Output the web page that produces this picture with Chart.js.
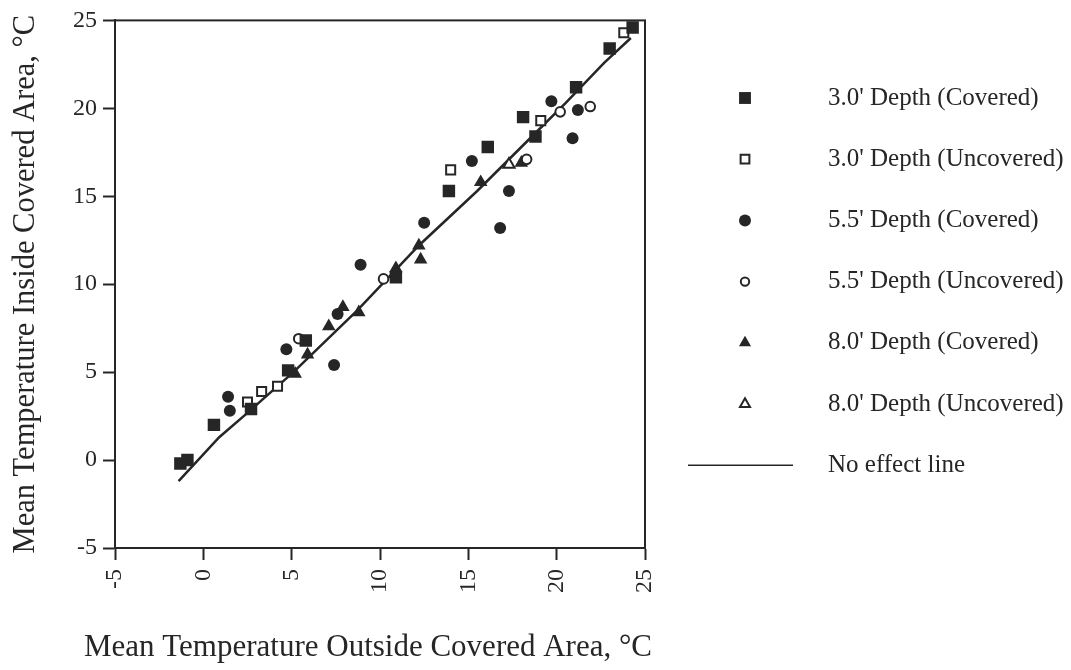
<!DOCTYPE html>
<html>
<head>
<meta charset="utf-8">
<script src="https://cdn.jsdelivr.net/npm/chart.js@4/dist/chart.umd.min.js"></script>
<style>
  html, body { margin: 0; padding: 0; background: #fff; }
  #wrap { width: 1071px; height: 670px; }
</style>
</head>
<body>
<div id="wrap"><canvas id="chart" width="1071" height="670"></canvas></div>
<script>
  // values: [outside, inside] in deg C
  const covered30 = [[-1.3, -0.2], [-0.9, 0.0], [0.6, 2.0], [2.7, 2.9], [4.8, 5.1], [5.8, 6.8],
    [10.9, 10.4], [13.9, 15.3], [16.1, 17.8], [18.1, 19.5], [18.8, 18.4], [21.1, 21.2],
    [23.0, 23.4], [24.3, 24.6]];
  const uncovered30 = [[2.5, 3.3], [3.3, 3.9], [4.2, 4.2], [14.0, 16.5], [19.1, 19.3], [23.8, 24.3]];
  const covered55 = [[1.4, 3.6], [1.5, 2.8], [4.7, 6.3], [7.4, 5.4], [7.6, 8.3], [8.9, 11.1],
    [12.5, 13.5], [15.2, 17.0], [16.8, 13.2], [17.3, 15.3], [19.7, 20.4], [20.9, 18.3], [21.2, 19.9]];
  const uncovered55 = [[5.4, 6.9], [10.2, 10.3], [18.3, 17.1], [20.2, 19.8], [21.9, 20.1]];
  const covered80 = [[5.2, 4.9], [5.9, 6.0], [7.1, 7.6], [7.9, 8.7], [8.8, 8.4], [10.9, 10.9],
    [12.2, 12.2], [12.3, 11.4], [15.7, 15.8], [18.0, 16.9]];
  const uncovered80 = [[17.3, 16.8]];
  const noEffect = [[-1.4, -1.2], [0.9, 1.3], [2.4, 2.6], [5.1, 5.0], [8.7, 8.5], [12.2, 12.2],
    [15.5, 15.3], [18.4, 18.2], [20.5, 20.3], [22.7, 22.6], [24.2, 24.0]];
  const axisTicks = [-5, 0, 5, 10, 15, 20, 25];
  const xTitle = 'Mean Temperature Outside Covered Area, °C';
  const yTitle = 'Mean Temperature Inside Covered Area, °C';

  const INK = '#262626';
  const SERIF = '"Liberation Serif", "Times New Roman", serif';

  const pts = (arr) => arr.map(([x, y]) => ({x, y}));

  const marker = (label, data, style, filled, radius, legendRadius) => ({
    label,
    data: pts(data),
    pointStyle: style,
    pointRadius: radius,
    pointHoverRadius: radius,
    backgroundColor: filled ? INK : '#fff',
    borderColor: INK,
    borderWidth: filled ? 0 : 2,
    legendRadius,
    order: 1
  });

  const datasets = [
    marker("3.0' Depth (Covered)", covered30, 'rect', true, 8.8, 8.4),
    marker("3.0' Depth (Uncovered)", uncovered30, 'rect', false, 6.4, 6.2),
    marker("5.5' Depth (Covered)", covered55, 'circle', true, 6, 6),
    marker("5.5' Depth (Uncovered)", uncovered55, 'circle', false, 4.8, 4.2),
    marker("8.0' Depth (Covered)", covered80, 'triangle', true, 7.8, 7),
    marker("8.0' Depth (Uncovered)", uncovered80, 'triangle', false, 6.5, 5.8),
    {
      label: 'No effect line',
      data: pts(noEffect),
      showLine: true,
      pointRadius: 0,
      borderColor: INK,
      backgroundColor: INK,
      borderWidth: 2.5,
      order: 5
    }
  ];

  // frame round the plot area (top and right sides as well)
  const frame = {
    id: 'frame',
    afterDatasetsDraw(chart) {
      const {ctx, chartArea: a} = chart;
      ctx.save();
      ctx.strokeStyle = INK;
      ctx.lineWidth = 2;
      ctx.strokeRect(a.left, a.top, a.right - a.left, a.bottom - a.top);
      ctx.restore();
    }
  };

  // x title is wider than the plot area, chart.js would squeeze it, so draw it here
  const bottomTitle = {
    id: 'bottomTitle',
    afterDraw(chart) {
      const {ctx, chartArea: a} = chart;
      ctx.save();
      ctx.fillStyle = INK;
      ctx.font = '31px ' + SERIF;
      ctx.textAlign = 'center';
      ctx.textBaseline = 'middle';
      ctx.fillText(xTitle, (a.left + a.right) / 2 - 12, 648);
      ctx.restore();
    }
  };

  // legend on the right, one row per dataset
  const sideLegend = {
    id: 'sideLegend',
    afterDraw(chart) {
      const ctx = chart.ctx;
      ctx.save();
      chart.data.datasets.forEach((ds, i) => {
        const y = 98 + i * 61.2;
        ctx.fillStyle = ds.backgroundColor;
        ctx.strokeStyle = ds.borderColor;
        ctx.lineWidth = ds.borderWidth;
        if (ds.showLine) {
          ctx.beginPath();
          ctx.moveTo(688, y);
          ctx.lineTo(793, y);
          ctx.lineWidth = 1.5;
          ctx.stroke();
        } else {
          Chart.helpers.drawPoint(ctx, {
            pointStyle: ds.pointStyle,
            radius: ds.legendRadius,
            borderWidth: ds.borderWidth
          }, 745, y);
        }
        ctx.fillStyle = INK;
        ctx.font = '25px ' + SERIF;
        ctx.textBaseline = 'middle';
        ctx.textAlign = 'left';
        ctx.fillText(ds.label, 828, y);
      });
      ctx.restore();
    }
  };

  const chart = new Chart(document.getElementById('chart'), {
    type: 'scatter',
    data: { datasets },
    options: {
      responsive: false,
      animation: false,
      layout: { padding: { top: 17, right: 426, left: 0, bottom: 0 } },
      plugins: { legend: { display: false }, tooltip: { enabled: false } },
      scales: {
        x: {
          type: 'linear',
          min: -5,
          max: 25,
          afterFit: (s) => { s.height = 122; },
          afterBuildTicks: (s) => { s.ticks = axisTicks.map((v) => ({value: v})); },
          grid: { drawOnChartArea: false, drawTicks: true, tickLength: 12, tickColor: INK, tickWidth: 2 },
          border: { display: true, color: INK, width: 2 },
          ticks: {
            autoSkip: false, minRotation: 90, maxRotation: 90, padding: 9,
            color: INK, font: { family: SERIF, size: 24 }
          }
        },
        y: {
          type: 'linear',
          min: -5,
          max: 25,
          afterFit: (s) => { s.width = 115; },
          afterBuildTicks: (s) => { s.ticks = axisTicks.map((v) => ({value: v})); },
          grid: { drawOnChartArea: false, drawTicks: true, tickLength: 12, tickColor: INK, tickWidth: 2 },
          border: { display: true, color: INK, width: 2 },
          ticks: { padding: 6, color: INK, font: { family: SERIF, size: 24 } },
          title: {
            display: true,
            text: yTitle,
            color: INK,
            font: { family: SERIF, size: 30.5, lineHeight: 1.2 },
            padding: { top: 8, bottom: 0 }
          }
        }
      }
    },
    plugins: [frame, bottomTitle, sideLegend]
  });
</script>
</body>
</html>
